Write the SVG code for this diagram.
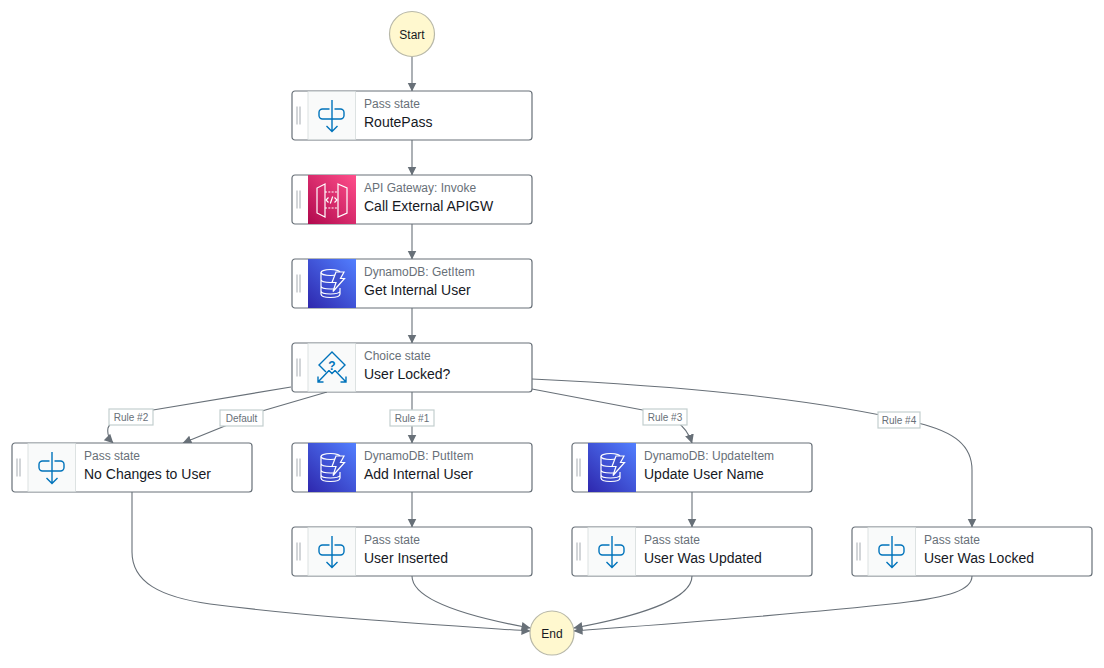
<svg xmlns="http://www.w3.org/2000/svg" width="1104" height="668" viewBox="0 0 1104 668">
<style>
text{font-family:"Liberation Sans",Arial,sans-serif}
.box{fill:#fff;stroke:#687078;stroke-width:1.2}
.grip{stroke:#c4c8cc;stroke-width:1.5;fill:none}
.sub{font-size:12px;fill:#687078}
.ttl{font-size:14px;fill:#16191f}
.edge{fill:none;stroke:#687078;stroke-width:1.1;marker-end:url(#ah)}
.lbl rect{fill:#fff;stroke:#c3cfcf;stroke-width:1.2}
.lbl text{font-size:10px;fill:#687078;text-anchor:middle}
.term circle{fill:#fff8cf;stroke:#b8b8a8;stroke-width:1.2}
.term text{font-size:12px;fill:#16191f;text-anchor:middle}
.ib{stroke:#0073bb;stroke-width:1.4;fill:none}
.iw{stroke:#fff;stroke-width:1.2;fill:none}
.bg{fill:#f9fafa;stroke:#d5dbdb;stroke-width:.8}
</style>
<defs>
<marker id="ah" markerUnits="userSpaceOnUse" markerWidth="10" markerHeight="10" refX="8.5" refY="4.5" orient="auto"><path d="M0 0L9 4.500L0 9Z" fill="#687078"/></marker>
<linearGradient id="pk" x1="0" y1="1" x2="1" y2="0"><stop offset="0" stop-color="#b0084d"/><stop offset="1" stop-color="#ff4f8b"/></linearGradient>
<linearGradient id="bl" x1="0" y1="1" x2="1" y2="0"><stop offset="0" stop-color="#2e27ad"/><stop offset="1" stop-color="#527fff"/></linearGradient>
<g id="frame"><rect class="box" x="0" y="0" width="240" height="49" rx="3"/><path class="grip" d="M5 15.500V33.500M8 15.500V33.500"/></g>
<g id="pass"><use href="#frame"/><rect class="bg" x="16" y="0.600" width="47.500" height="47.800"/>
<rect class="ib" x="27" y="18" width="25" height="10" rx="3.500"/><path d="M37.500 17H42.500V19H37.500Z" fill="#f9fafa" stroke="none"/><path d="M40 9V40M34.500 35L40 40.500L45.500 35" class="ib"/></g>
<g id="ddb"><use href="#frame"/><rect x="16" y="0" width="48" height="49" fill="url(#bl)"/>
<g class="iw"><ellipse cx="38.500" cy="13.500" rx="9.500" ry="3"/><path d="M29 13.500V35C29 37 33 38.500 38.500 38.500C44 38.500 48 37 48 35V29M29 20.500C29 22.500 33 23.500 38.500 23.500H41M29 27C29 29 33 30 38.500 30H42M29 32C29 34 33 35 38.500 35C43 35 47 34 48 32.500"/><path d="M44 13H52L48.500 19.500H52.500L41 32.500L44 23.500H40Z" fill="#3f50cc"/></g></g>
</defs>

<g id="connectors">
<path class="edge" d="M412 57V91"/>
<path class="edge" d="M412 140V175"/>
<path class="edge" d="M412 224V259"/>
<path class="edge" d="M412 308V343"/>
<path class="edge" d="M412 392V443"/>
<path class="edge" d="M412 492V527"/>
<path class="edge" d="M692 492V527"/>
<path class="edge" d="M291 387L153 410C128 414 110 420 108 428C107 434 109 439 113 443"/>
<path class="edge" d="M327 392L262 411L183 443"/>
<path class="edge" d="M532 389L648 411C672 416 686 424 692 443"/>
<path class="edge" d="M532 379C680 386 810 398 918 423C955 432 972 446 972 470V527"/>
<path class="edge" d="M132 492V552C132 582 160 597 210 604C320 618 440 625 530 631"/>
<path class="edge" d="M412 576C412 600 470 617 530 628"/>
<path class="edge" d="M692 576C692 600 635 617 574 628"/>
<path class="edge" d="M972 576C972 590 950 597 900 603C790 615 680 623 574 631"/>
</g>

<g id="start" class="term"><circle cx="412" cy="34" r="22.500"/><text x="412" y="38.500">Start</text></g>
<g id="end" class="term"><circle cx="552" cy="633" r="22"/><text x="552" y="637.500">End</text></g>

<g id="routepass"><use href="#pass" x="292" y="91"/><text class="sub" x="364" y="108">Pass state</text><text class="ttl" x="364" y="127">RoutePass</text></g>

<g id="call-apigw"><use href="#frame" x="292" y="175"/><rect x="308" y="175" width="48" height="49" fill="url(#pk)"/>
<g class="iw"><path d="M325 184L317 188V213L325 217ZM338 184L347 188V213L338 217Z"/><path d="M325 192H338M325 208H338" stroke-dasharray="2 1.300"/><path d="M328.500 197.500L326 200L328.500 202.500M334.500 197.500L337 200L334.500 202.500M332.700 196.500L330.300 203.500"/></g>
<text class="sub" x="364" y="192">API Gateway: Invoke</text><text class="ttl" x="364" y="211">Call External APIGW</text></g>

<g id="get-user"><use href="#ddb" x="292" y="259"/><text class="sub" x="364" y="276">DynamoDB: GetItem</text><text class="ttl" x="364" y="295">Get Internal User</text></g>

<g id="choice"><use href="#frame" x="292" y="343"/><rect class="bg" x="308" y="343.600" width="47.500" height="47.800"/>
<g class="ib" stroke-width="1.500"><path d="M326 372L319 365L332 352L345 365L338 372"/><path d="M329 370.500L332 373.500L335 370.500M329 370.500L318 382M318 376.500V382H323.500M335 370.500L346 382M346 376.500V382H340.500"/></g>
<text x="332" y="370" font-size="12" font-weight="700" fill="#0073bb" text-anchor="middle">?</text>
<text class="sub" x="364" y="360">Choice state</text><text class="ttl" x="364" y="379">User Locked?</text></g>

<g id="no-changes"><use href="#pass" x="12" y="443"/><text class="sub" x="84" y="460">Pass state</text><text class="ttl" x="84" y="479">No Changes to User</text></g>
<g id="add-user"><use href="#ddb" x="292" y="443"/><text class="sub" x="364" y="460">DynamoDB: PutItem</text><text class="ttl" x="364" y="479">Add Internal User</text></g>
<g id="update-user"><use href="#ddb" x="572" y="443"/><text class="sub" x="644" y="460">DynamoDB: UpdateItem</text><text class="ttl" x="644" y="479">Update User Name</text></g>
<g id="user-inserted"><use href="#pass" x="292" y="527"/><text class="sub" x="364" y="544">Pass state</text><text class="ttl" x="364" y="563">User Inserted</text></g>
<g id="user-updated"><use href="#pass" x="572" y="527"/><text class="sub" x="644" y="544">Pass state</text><text class="ttl" x="644" y="563">User Was Updated</text></g>
<g id="user-locked"><use href="#pass" x="852" y="527"/><text class="sub" x="924" y="544">Pass state</text><text class="ttl" x="924" y="563">User Was Locked</text></g>

<g id="edge-labels">
<g class="lbl"><rect x="109" y="409" width="44" height="16"/><text x="131" y="421">Rule #2</text></g>
<g class="lbl"><rect x="220" y="410" width="43" height="16"/><text x="241.500" y="422">Default</text></g>
<g class="lbl"><rect x="390" y="410" width="44" height="16"/><text x="412" y="422">Rule #1</text></g>
<g class="lbl"><rect x="643" y="409" width="44" height="16"/><text x="665" y="421">Rule #3</text></g>
<g class="lbl"><rect x="878" y="412" width="42" height="16"/><text x="899" y="424">Rule #4</text></g>
</g>
</svg>
